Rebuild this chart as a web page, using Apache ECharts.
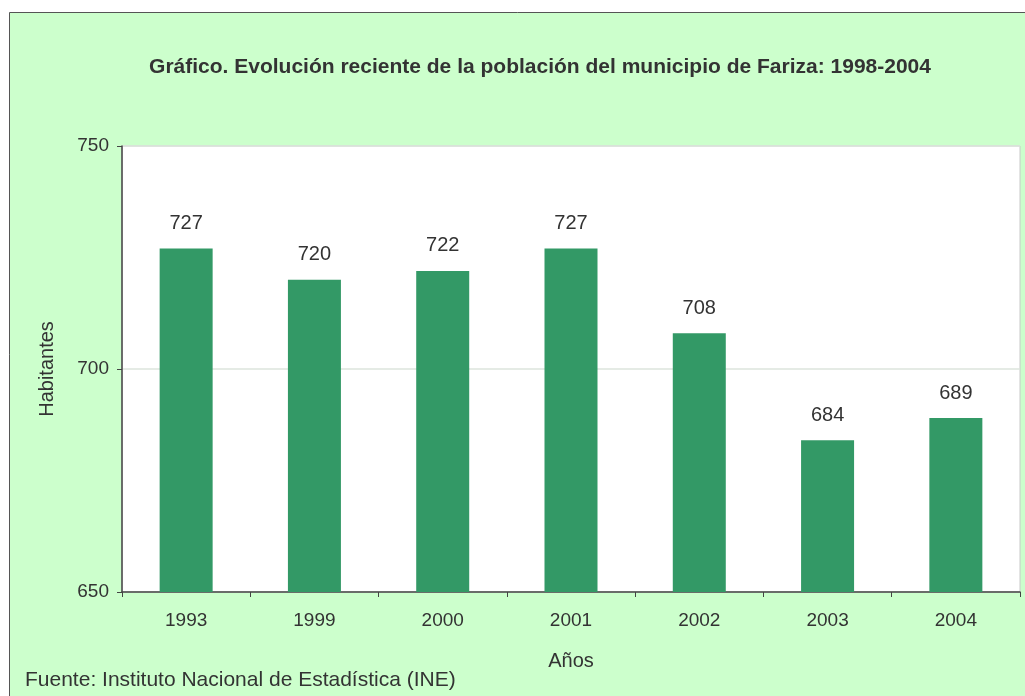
<!DOCTYPE html>
<html>
<head>
<meta charset="utf-8">
<script src="https://cdn.jsdelivr.net/npm/echarts@6/dist/echarts.min.js"></script>
<style>
  html, body { margin: 0; padding: 0; background: #fff; }
  #chart { width: 1025px; height: 696px; }
</style>
</head>
<body>
<div id="chart"></div>
<script>
// Población de Fariza, 1998-2004 (etiqueta del primer año tal como aparece)
var years = ["1993", "1999", "2000", "2001", "2002", "2003", "2004"];
var habitantes = [727, 720, 722, 727, 708, 684, 689];
var yTicks = [650, 700, 750];

var chartTitle = "Gráfico. Evolución reciente de la población del municipio de Fariza: 1998-2004";
var fuente = "Fuente: Instituto Nacional de Estadística (INE)";

var myChart = echarts.init(document.getElementById("chart"));

var option = {
    backgroundColor: "#fff",
    animation: false,
    textStyle: { fontFamily: "Liberation Sans, Arial, sans-serif" },
    graphic: [{
        type: "rect",
        z: -10,
        shape: { x: 9.5, y: 12.5, width: 1030, height: 700 },
        style: { fill: "#ccffcc", stroke: "#555", lineWidth: 1 }
    }, {
        type: "text",
        left: 25,
        top: 670,
        style: { text: fuente, fill: "#333", fontSize: 21, fontFamily: "Liberation Sans, Arial, sans-serif" }
    }],
    title: {
        text: chartTitle,
        left: 535,
        textAlign: "center",
        top: 52,
        textStyle: { fontSize: 21, fontWeight: "bold", color: "#333" }
    },
    grid: {
        show: true,
        left: 122,
        top: 146,
        right: 5,
        bottom: 104,
        backgroundColor: "#fff",
        borderColor: "#c8c8c8",
        borderWidth: 1
    },
    xAxis: {
        type: "category",
        data: years,
        name: "Años",
        nameLocation: "middle",
        nameGap: 59,
        nameTextStyle: { fontSize: 20, color: "#333" },
        axisLine: { lineStyle: { color: "#444", width: 1.5 } },
        axisTick: { show: true, length: 5, lineStyle: { color: "#444" } },
        axisLabel: { fontSize: 19, color: "#333", margin: 19 }
    },
    yAxis: {
        type: "value",
        min: yTicks[0],
        max: yTicks[yTicks.length - 1],
        interval: 50,
        name: "Habitantes",
        nameLocation: "middle",
        nameGap: 65,
        nameTextStyle: { fontSize: 20, color: "#333" },
        axisLine: { show: true, lineStyle: { color: "#444", width: 1.5 } },
        axisTick: { show: true, length: 5, lineStyle: { color: "#444" } },
        axisLabel: { fontSize: 19, color: "#333", margin: 13 },
        splitLine: { show: true, lineStyle: { color: "#dde5dd", width: 1.5 } }
    },
    series: [{
        type: "bar",
        data: habitantes,
        barWidth: 53,
        itemStyle: { color: "#339966" },
        label: {
            show: true,
            position: "top",
            distance: 15,
            fontSize: 20,
            color: "#333"
        }
    }]
};

myChart.setOption(option);
</script>
</body>
</html>
